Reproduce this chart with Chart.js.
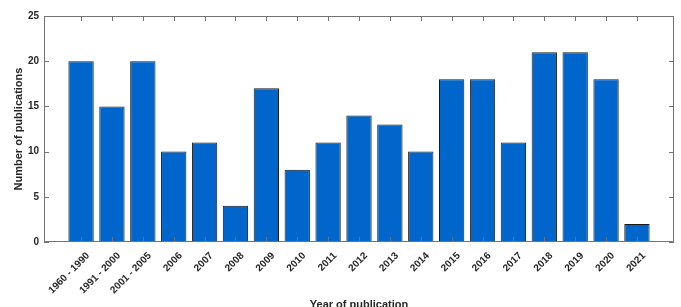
<!DOCTYPE html>
<html>
<head>
<meta charset="utf-8">
<script src="https://cdn.jsdelivr.net/npm/chart.js@4/dist/chart.umd.min.js"></script>
<style>
html,body{margin:0;padding:0;background:#fff;}
#wrap{width:681px;height:307px;position:relative;}
</style>
</head>
<body>
<div id="wrap"><canvas id="c" width="681" height="307"></canvas></div>
<script>
const categories = ["1960 - 1990","1991 - 2000","2001 - 2005","2006","2007","2008","2009","2010","2011","2012","2013","2014","2015","2016","2017","2018","2019","2020","2021"];
const publications = [20,15,20,10,11,4,17,8,11,14,13,10,18,18,11,21,21,18,2];
const yTickValues = [0,5,10,15,20,25];
const xTitle = "Year of publication";
const yTitle = "Number of publications";

const AXIS = '#737373';
const FONT = "'Liberation Sans', Arial, sans-serif";

const boxPlugin = {
  id: 'box',
  afterDatasetsDraw(chart) {
    const {ctx, chartArea: a, scales: {x, y}} = chart;
    ctx.save();
    ctx.strokeStyle = AXIS;
    ctx.lineWidth = 1;
    ctx.beginPath();
    ctx.rect(Math.round(a.left) + 0.5, Math.round(a.top) + 0.5, Math.round(a.right - a.left) - 1, Math.round(a.bottom - a.top) - 1);
    ctx.stroke();
    ctx.beginPath();
    const tl = 5;
    categories.forEach((c, i) => {
      const px = Math.round(x.getPixelForValue(i)) + 0.5;
      ctx.moveTo(px, a.bottom); ctx.lineTo(px, a.bottom - tl);
      ctx.moveTo(px, a.top); ctx.lineTo(px, a.top + tl);
    });
    yTickValues.forEach(v => {
      const py = Math.round(y.getPixelForValue(v)) + 0.5;
      ctx.moveTo(a.left, py); ctx.lineTo(a.left + tl, py);
      ctx.moveTo(a.right, py); ctx.lineTo(a.right - tl, py);
    });
    ctx.stroke();
    ctx.restore();
  }
};

new Chart(document.getElementById('c'), {
  type: 'bar',
  data: {
    datasets: [{
      data: publications.map((v, i) => ({x: i, y: v})),
      backgroundColor: '#0066cc',
      borderColor: '#1a1a1a',
      borderWidth: 1,
      barPercentage: 0.82,
      categoryPercentage: 1.0
    }]
  },
  options: {
    responsive: false,
    animation: false,
    devicePixelRatio: 1,
    layout: {padding: {left: 0, right: 7, top: 16, bottom: 0}},
    plugins: {legend: {display: false}, tooltip: {enabled: false}},
    scales: {
      x: {
        type: 'linear',
        offset: false,
        min: -1.2,
        max: categories.length - 1 + 1.2,
        grid: {display: false, drawTicks: false},
        border: {display: false},
        afterBuildTicks(scale) { scale.ticks = categories.map((c, i) => ({value: i})); },
        afterFit(scale) { scale.height = 65; },
        ticks: {
          autoSkip: false,
          maxRotation: 45,
          minRotation: 45,
          padding: 8,
          labelOffset: 7,
          color: '#262626',
          font: {family: FONT, size: 10, weight: 'bold'},
          callback: (v) => categories[v]
        },
        title: {
          display: true,
          text: xTitle,
          color: '#262626',
          font: {family: FONT, size: 11, weight: 'bold'},
          padding: {top: 0, bottom: -5}
        }
      },
      y: {
        min: 0,
        max: 25,
        grid: {display: false, drawTicks: false},
        border: {display: false},
        afterBuildTicks(scale) { scale.ticks = yTickValues.map(v => ({value: v})); },
        afterFit(scale) { scale.width = 44; },
        ticks: {
          padding: 5,
          color: '#262626',
          font: {family: FONT, size: 10, weight: 'bold'}
        },
        title: {
          display: true,
          text: yTitle,
          color: '#262626',
          font: {family: FONT, size: 11, weight: 'bold'},
          padding: {top: 12, bottom: 0}
        }
      }
    }
  },
  plugins: [boxPlugin]
});
</script>
</body>
</html>
